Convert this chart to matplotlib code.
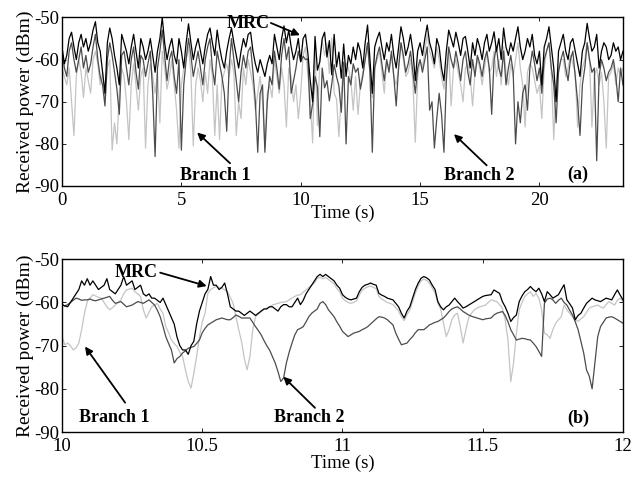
import numpy as np
import matplotlib
matplotlib.use("Agg")
import matplotlib.pyplot as plt

plt.rcParams['font.family'] = ['Liberation Serif', 'DejaVu Serif']
plt.rcParams['axes.unicode_minus'] = False

# ---------------- panel (a): full record, 0.1 s sampling ----------------
step_a = 0.1
mrc_a = [
    -57, -61, -59, -55, -53.5, -57, -60, -56, -54, -57,
    -55, -58, -56, -53, -51, -56, -58, -63, -68, -56,
    -52.5, -55, -59, -62, -66, -54, -56, -58, -61, -57,
    -54, -58, -62, -55, -57, -60, -58, -55, -59, -63,
    -58, -55, -50, -56, -60, -57, -55, -59, -61, -55,
    -58, -62, -56, -51.5, -56, -60, -57, -55, -58, -61,
    -57, -54, -52.5, -56, -59, -53, -57, -60, -62, -58,
    -55, -52.5, -56, -59, -62, -58, -55, -57, -54, -53.5,
    -58, -61, -63, -60, -62, -64, -61, -59, -61, -54,
    -57, -60, -55, -52, -56, -53, -57, -60, -58, -55,
    -60.5, -55, -54, -58.5, -65, -70, -54.5, -62.5, -60.5, -55,
    -53.5, -59.4, -55.5, -63.6, -54, -61.7, -58.2, -64.4, -56.3, -64,
    -59, -61, -57, -60, -56, -58, -62, -56, -51.8, -60,
    -68, -57, -55, -53.5, -57, -60, -56, -58, -54, -59,
    -62, -57, -52.2, -55, -59, -57, -54, -58, -65, -58,
    -56, -59, -55, -51.8, -56, -58, -61, -55, -57, -62,
    -65, -58, -53, -55, -57, -53.5, -56, -59, -55, -54.5,
    -58, -62, -56, -59, -55, -57, -60, -56, -54, -58,
    -56, -53.4, -58, -55, -60, -52.5, -57, -59, -56, -58,
    -55, -52.2, -57, -60, -58, -55, -57, -54, -59, -61,
    -58, -66, -57, -55, -52.2, -57, -62, -70, -58, -56,
    -54, -58, -60, -56, -55, -58, -61, -64, -58, -56,
    -51.4, -55, -58, -57, -54, -62, -58, -56, -57, -60,
    -59, -56, -58, -57, -60, -58,
]
branch2_a = [
    -58, -62, -64, -58, -56, -60, -63, -60, -57, -62,
    -59, -63, -61, -57, -54, -60, -64, -66, -71, -60,
    -56, -59, -63, -67, -73, -59, -58, -62, -66, -60,
    -57, -63, -67, -59, -60, -64, -61, -58, -68, -83,
    -62, -58, -53, -59, -65, -60, -58, -64, -68, -60,
    -81.5, -66, -60, -55, -59, -64, -61, -58, -62, -66,
    -60, -57, -55, -62, -66, -58, -61, -64, -68, -77,
    -62, -55, -60, -65, -70, -63, -59, -62, -58, -57,
    -63, -70, -82, -68, -66, -82, -70, -64, -66, -58,
    -62, -67, -59, -55, -60, -57, -68, -65, -62, -58,
    -60.5, -59.2, -60, -59.8, -74, -70.5, -64, -66.5, -78.3, -62,
    -66.7, -65, -69.8, -65.8, -61.2, -64, -66.3, -72.5, -60.6, -80,
    -64, -66, -61, -63, -62, -67, -64, -60, -56, -63,
    -82, -62, -59, -57, -61, -65, -60, -63, -58, -64,
    -71, -62, -56, -59, -63, -61, -58, -63, -68, -62,
    -60, -63, -60, -57, -72, -70, -81, -74, -68, -73,
    -82, -65, -57, -60, -62, -58, -61, -65, -60, -58,
    -63, -66, -60, -64, -59, -61, -64, -60, -58, -62,
    -73, -60, -57, -62, -64, -58, -66, -62, -59, -63,
    -80, -70, -75, -68, -66, -72, -62, -58, -61, -65,
    -62, -68, -60, -58, -56, -62, -66, -75, -63, -60,
    -58, -62, -65, -60, -58, -64, -70, -78, -66, -62,
    -56, -60, -63, -62, -84, -64, -60, -62, -65, -63,
    -62, -60, -64, -70, -62, -66,
]
branch1_a = [
    -62, -64, -66, -62, -70, -78, -64, -60, -63, -69,
    -62, -65, -68, -60, -58, -61, -66, -63, -70, -62,
    -60, -81.5, -75, -80, -68, -62, -64, -70, -79, -66,
    -61, -66, -72, -64, -62, -81, -66, -61, -64, -68,
    -63, -75, -58, -62, -67, -64, -60, -66, -72, -81,
    -66, -62, -60, -57, -63, -80.5, -66, -62, -65, -70,
    -63, -68, -60, -64, -78, -66, -79, -65, -63, -61,
    -64, -60, -63, -78, -70, -74, -62, -66, -60, -63,
    -66, -72, -68, -64, -70, -81, -68, -66, -69, -60,
    -64, -68, -62, -66, -76, -62, -64, -70, -66, -74,
    -67.9, -59, -57, -63.6, -69.5, -79.8, -57, -75.6, -59.8, -55.5,
    -59, -56.2, -63.3, -54.9, -67.9, -69.4, -78.3, -68.3, -61.7, -60.8,
    -62, -65, -72, -64, -73, -66, -63, -60, -57, -63,
    -69, -62, -60, -58, -63, -68, -60, -62, -59, -64,
    -66, -62, -56, -60, -64, -63, -60, -65, -79.6, -64,
    -60, -62, -58, -54, -58, -60, -62, -57, -60, -64,
    -67, -62, -58, -71, -62, -60, -63, -66, -70, -62,
    -61, -64, -71, -63, -60, -62, -66, -62, -58, -63,
    -62, -58, -64, -60, -66, -57, -63, -66, -61, -64,
    -60, -56, -62, -66, -76, -63, -61, -62, -65, -68,
    -66, -74, -62, -58, -56, -63, -79, -66, -62, -60,
    -60, -64, -62, -59, -61, -63, -76, -66, -62, -60,
    -56, -60, -76, -64, -62, -66, -63, -70, -81, -64,
    -63, -61, -66, -62, -64, -62,
]

# ---------------- panel (b): 10 s to 12 s, 0.01 s sampling ----------------
start_b = 10.0
step_b = 0.01
mrc_b = [
    -60.5, -60.8, -61, -60, -59, -58, -57, -55, -56, -54.5,
    -56, -55, -56, -57, -56.5, -56, -54.5, -57, -57.5, -58,
    -57, -56, -54, -56, -55.5, -55, -57, -56.5, -56, -58,
    -58.5, -58, -59, -59, -59.5, -60, -59, -60.5, -62, -63.5,
    -65, -68, -70, -71, -71, -72, -70, -69, -65, -62,
    -60, -58, -57, -54, -56, -56, -57, -56.5, -55.5, -58,
    -61, -61.5, -62, -62, -62.5, -63, -62.5, -62, -62.5, -63,
    -62.5, -62, -61.5, -61.5, -61, -61, -61.5, -62, -61, -60.5,
    -60.5, -61, -61, -60, -59, -60.5, -59.5, -58, -57, -56,
    -55, -54, -53.5, -54, -53.5, -54, -54.5, -55, -56, -56.7,
    -58.2, -58.8, -59.2, -59.4, -59.2, -59, -57.5, -56.5, -56, -55.8,
    -55.5, -55.8, -56, -57.9, -58.3, -58.6, -59, -59.2, -59.4, -60.2,
    -61, -62.5, -63.6, -62, -61, -59, -57, -55.5, -54.4, -54,
    -54.3, -54.8, -56, -57, -59.8, -61, -61.7, -61, -60.6, -59.8,
    -59, -59.8, -60.5, -61.3, -61, -60.6, -60.2, -59.8, -59.4, -59,
    -58.6, -58.4, -58.3, -58.2, -57.1, -57.5, -57.9, -59.8, -61, -62.5,
    -64.4, -63.5, -62.9, -59.8, -58.5, -57.5, -57, -56.3, -57, -57.5,
    -56.7, -58, -59.8, -57.5, -58.2, -59, -58.6, -58.2, -57, -55.9,
    -59.4, -60.3, -61.3, -64, -63, -62.5, -61.3, -60.2, -59.6, -59,
    -59.4, -59.6, -59.8, -59.4, -59, -59.2, -59.4, -58.2, -57.1, -58.3,
    -59.4,
]
branch2_b = [
    -60.5, -60.8, -60.5, -60, -59.5, -59, -59.2, -59.5, -59.4, -59.4,
    -59.2, -59.5, -59.6, -59.4, -59.2, -59, -58.8, -58.6, -59.5, -60.2,
    -60, -59.8, -60.4, -61, -60.8, -60.6, -60.2, -59.8, -60, -60.2,
    -59.8, -59.4, -60, -60.6, -61.8, -63.3, -65.5, -67.9, -69.5, -71,
    -74, -73, -72.5, -71.7, -71.2, -70.6, -70.4, -70.2, -69.5, -68.7,
    -67, -66, -65.2, -64.8, -64.4, -64, -63.8, -63.6, -63.8, -64,
    -64, -63.5, -62.9, -63.2, -63.6, -63.6, -63.6, -63.6, -64.6, -65.6,
    -66.5, -67.5, -68.8, -70, -71, -72.5, -74, -76, -78.3, -77.5,
    -74, -71.5, -69.4, -67.5, -66.3, -66, -65.6, -64.5, -63.3, -62.5,
    -62, -61.5, -60.2, -59.8, -60.5, -61.7, -62.5, -63.3, -64.5, -65.5,
    -66.7, -67.3, -67.9, -67.5, -67.1, -66.9, -66.7, -66.3, -66, -65.6,
    -65, -64.4, -63.8, -63.3, -63.4, -63.6, -64, -64.6, -65.2, -67.1,
    -68.5, -69.8, -69.6, -69.4, -68.6, -67.9, -67, -66.3, -66.3, -66.3,
    -65.8, -65.2, -64.9, -64.6, -64.4, -64, -63.6, -62.9, -62.1, -61.5,
    -61.2, -61, -61.5, -62.1, -62.5, -62.9, -63.2, -63.4, -63.6, -63.8,
    -64, -63.8, -63.7, -63.6, -62.9, -62.5, -62.3, -62.1, -63, -64.5,
    -66.3, -67.5, -68.7, -68.5, -68.3, -68.4, -68.6, -68.7, -69.4, -70.2,
    -71.3, -72.5, -60.2, -59.2, -59, -59.4, -60.2, -59.5, -59, -60,
    -60.6, -61.8, -62.9, -64.5, -66.3, -69, -71.7, -75.6, -77.1, -80,
    -74, -67.9, -65.6, -64.6, -63.6, -63.4, -63.3, -63.6, -64, -64.4,
    -64.8,
]
branch1_b = [
    -67.9, -69.8, -69.4, -70, -71, -70.5, -69.4, -66.3, -62.5, -59.8,
    -59, -58.2, -58.5, -58.8, -59, -60, -61, -61.7, -61.2, -60.6,
    -60, -59.4, -58, -57.1, -56.9, -56.7, -57.5, -58, -58.6, -61.7,
    -63.6, -62.3, -61, -60.6, -60.2, -61.5, -62.5, -65.6, -67, -68.7,
    -69.5, -70.2, -71.5, -72.5, -75.6, -78.3, -79.8, -76.4, -72.5, -67.9,
    -64.5, -62.5, -57.9, -57, -56.6, -56.3, -56.5, -56.7, -57.1, -57.5,
    -58.8, -60.2, -63.3, -66.3, -69, -73, -75.6, -72.5, -66.3, -63.3,
    -62.7, -62.1, -61.6, -61.3, -61, -60.6, -60.4, -60.2, -60, -59.9,
    -59.8, -59.4, -59, -58.6, -58.3, -58.2, -57.6, -57.1, -56.5, -56,
    -55.5, -54.4, -54.2, -54.5, -54.2, -54.7, -55.2, -55.7, -56.8, -57.5,
    -59, -59.6, -60, -60.2, -60, -59.6, -58.3, -57.2, -56.7, -56.4,
    -56.2, -56.5, -56.8, -58.6, -59.2, -59.6, -60, -60.2, -60.5, -61.2,
    -62, -63.3, -64.2, -62.8, -61.8, -59.8, -57.8, -56.2, -55, -54.6,
    -54.9, -55.5, -56.7, -57.8, -60.2, -61.5, -64.8, -67.9, -66.3, -64,
    -62.9, -62.5, -65.6, -69.4, -66.3, -63.5, -62.5, -61.7, -61.3, -61,
    -60.8, -60.6, -60, -59.4, -59.6, -59.8, -60.5, -61.3, -64, -68.7,
    -78.3, -74, -67.1, -61.7, -60, -58.6, -58, -57.5, -58.6, -57.9,
    -59, -61.7, -67.1, -67.5, -68.3, -66.3, -64.8, -64, -63.3, -60.6,
    -61.7, -62.5, -63.3, -64, -64.4, -63.8, -63.3, -62.3, -61.3, -61,
    -60.8, -60.6, -61, -61.3, -60.5, -59.8, -60.2, -60.6, -59.5, -59,
    -59.8,
]

t_a = np.arange(len(mrc_a)) * step_a
t_b = start_b + np.arange(len(mrc_b)) * step_b

col_b1 = '#c4c4c4'
col_b2 = '#4c4c4c'
col_mrc = '#000000'

fig = plt.figure(figsize=(6.34, 4.79), dpi=100)
ax1 = fig.add_axes([0.0978, 0.6117, 0.8848, 0.3518])
ax2 = fig.add_axes([0.0978, 0.0981, 0.8848, 0.3606])

ax1.plot(t_a, branch1_a, color=col_b1, lw=0.9)
ax1.plot(t_a, branch2_a, color=col_b2, lw=0.9)
ax1.plot(t_a, mrc_a, color=col_mrc, lw=0.9)

ax2.plot(t_b, branch1_b, color=col_b1, lw=0.9)
ax2.plot(t_b, branch2_b, color=col_b2, lw=0.9)
ax2.plot(t_b, mrc_b, color=col_mrc, lw=0.9)

ax1.set_xlim(0, 23.5)
ax1.set_xticks([0, 5, 10, 15, 20])
ax2.set_xlim(10, 12)
ax2.set_xticks([10, 10.5, 11, 11.5, 12])
ax2.set_xticklabels(['10', '10.5', '11', '11.5', '12'])

for ax in (ax1, ax2):
    ax.set_ylim(-90, -50)
    ax.set_yticks([-90, -80, -70, -60, -50])
    ax.tick_params(direction='in', top=True, right=True, length=3,
                   width=0.6, labelsize=13.5)
    ax.tick_params(axis='y', pad=2)
    ax.tick_params(axis='x', pad=4)
    for s in ax.spines.values():
        s.set_linewidth(1.0)
    ax.set_ylabel('Received power (dBm)', fontsize=14, labelpad=0)

ax1.set_xlabel('Time (s)', fontsize=13.5, labelpad=-3)
ax2.set_xlabel('Time (s)', fontsize=13.5, labelpad=0)

bold = dict(fontsize=13, fontweight='bold', ha='center', va='center')
arrow = dict(arrowstyle='-|>', color='k', lw=1.3, mutation_scale=11,
             shrinkA=0, shrinkB=0)

# panel (a) labels
ax1.text(7.8, -51.5, 'MRC', **bold)
ax1.annotate('', xy=(9.97, -54.2), xytext=(8.75, -51.3), arrowprops=arrow)
ax1.text(6.4, -87.6, 'Branch 1', **bold)
ax1.annotate('', xy=(5.66, -77.3), xytext=(7.04, -84.6), arrowprops=arrow)
ax1.text(17.5, -87.6, 'Branch 2', **bold)
ax1.annotate('', xy=(16.42, -77.7), xytext=(17.79, -85.1), arrowprops=arrow)
ax1.text(21.6, -87.3, '(a)', **bold)

# panel (b) labels
ax2.text(10.265, -53.0, 'MRC', **bold)
ax2.annotate('', xy=(10.516, -56.2), xytext=(10.35, -53.1), arrowprops=arrow)
ax2.text(10.185, -86.6, 'Branch 1', **bold)
ax2.annotate('', xy=(10.082, -70.2), xytext=(10.225, -83.2), arrowprops=arrow)
ax2.text(10.88, -86.6, 'Branch 2', **bold)
ax2.annotate('', xy=(10.789, -77.2), xytext=(10.902, -84.4), arrowprops=arrow)
ax2.text(11.84, -86.8, '(b)', **bold)

fig.savefig('out.png', dpi=100)
